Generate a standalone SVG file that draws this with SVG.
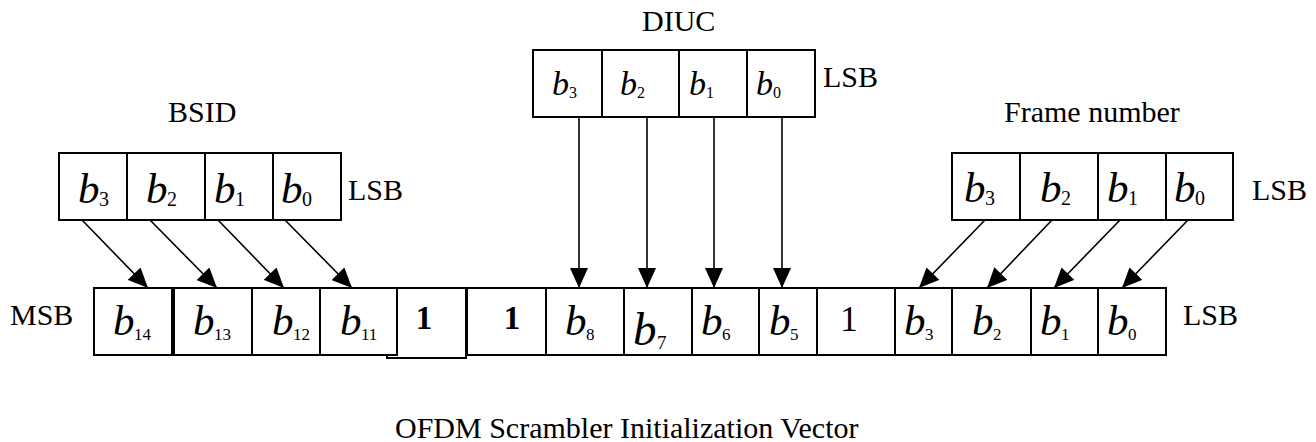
<svg xmlns="http://www.w3.org/2000/svg" width="1316" height="442" viewBox="0 0 1316 442" font-family="'Liberation Serif', 'DejaVu Serif', serif">
<style>
  text { font-family: 'Liberation Serif', 'DejaVu Serif', serif; fill: #000; }
  .cell { fill: #fff; stroke: #000; stroke-width: 2; }
  .lbl { font-size: 30px; }
  .bi { font-style: italic; font-size: 43px; }
  .bs { font-size: 20px; }
  .bbi { font-style: italic; font-size: 43px; }
  .bbs { font-size: 17px; }
  .di { font-style: italic; font-size: 34px; }
  .ds { font-size: 16px; }
  .one { font-size: 33px; font-weight: bold; text-anchor: middle; }
  .onen { font-size: 35px; text-anchor: middle; }
  .conn { stroke: #000; stroke-width: 1.6; fill: none; marker-end: url(#ah); }
</style>
<defs>
  <marker id="ah" markerUnits="userSpaceOnUse" markerWidth="20" markerHeight="18" refX="20" refY="9" orient="auto">
    <path d="M0,0 L20,9 L0,18 z" fill="#000"/>
  </marker>
</defs>
<rect width="1316" height="442" fill="#fff"/>

<!-- BSID -->
<g id="bsid">
  <text class="lbl" x="168" y="122">BSID</text>
  <rect class="cell" x="59" y="153" width="68" height="67"/>
  <rect class="cell" x="127" y="153" width="78" height="67"/>
  <rect class="cell" x="205" y="153" width="68" height="67"/>
  <rect class="cell" x="273" y="153" width="68" height="67"/>
  <text class="bi" x="78" y="203">b</text><text class="bs" x="99" y="206">3</text>
  <text class="bi" x="146" y="203">b</text><text class="bs" x="167" y="206">2</text>
  <text class="bi" x="214" y="203">b</text><text class="bs" x="235" y="206">1</text>
  <text class="bi" x="281" y="203">b</text><text class="bs" x="302" y="206">0</text>
  <text class="lbl" x="348" y="200">LSB</text>
</g>

<!-- DIUC -->
<g id="diuc">
  <text class="lbl" x="642" y="31">DIUC</text>
  <rect class="cell" x="533" y="50" width="69" height="67"/>
  <rect class="cell" x="602" y="50" width="77" height="67"/>
  <rect class="cell" x="679" y="50" width="68" height="67"/>
  <rect class="cell" x="747" y="50" width="68" height="67"/>
  <text class="di" x="552" y="95">b</text><text class="ds" x="569" y="98">3</text>
  <text class="di" x="620" y="95">b</text><text class="ds" x="637" y="98">2</text>
  <text class="di" x="689" y="95">b</text><text class="ds" x="706" y="98">1</text>
  <text class="di" x="756" y="95">b</text><text class="ds" x="773" y="98">0</text>
  <text class="lbl" x="823" y="87">LSB</text>
</g>

<!-- Frame number -->
<g id="frame">
  <text class="lbl" x="1004" y="122">Frame number</text>
  <rect class="cell" x="952" y="153" width="68" height="67"/>
  <rect class="cell" x="1020" y="153" width="78" height="67"/>
  <rect class="cell" x="1098" y="153" width="68" height="67"/>
  <rect class="cell" x="1166" y="153" width="67" height="67"/>
  <text class="bi" x="964" y="202">b</text><text class="bs" x="985" y="205">3</text>
  <text class="bi" x="1040" y="202">b</text><text class="bs" x="1061" y="205">2</text>
  <text class="bi" x="1107" y="202">b</text><text class="bs" x="1128" y="205">1</text>
  <text class="bi" x="1174" y="202">b</text><text class="bs" x="1195" y="205">0</text>
  <text class="lbl" x="1252" y="200">LSB</text>
</g>

<!-- Initialization vector -->
<g id="iv">
  <text class="lbl" x="10" y="325">MSB</text>
  <rect class="cell" x="387" y="288" width="79" height="70"/>
  <rect class="cell" x="94" y="288" width="78" height="67"/>
  <rect class="cell" x="174" y="288" width="78" height="67"/>
  <rect class="cell" x="252" y="288" width="68" height="67"/>
  <rect class="cell" x="320" y="288" width="77" height="67"/>
  <rect class="cell" x="467" y="288" width="79" height="67"/>
  <rect class="cell" x="546" y="288" width="78" height="67"/>
  <rect class="cell" x="624" y="288" width="68" height="67"/>
  <rect class="cell" x="692" y="288" width="67" height="67"/>
  <rect class="cell" x="759" y="288" width="58" height="67"/>
  <rect class="cell" x="817" y="288" width="78" height="67"/>
  <rect class="cell" x="895" y="288" width="57" height="67"/>
  <rect class="cell" x="952" y="288" width="79" height="67"/>
  <rect class="cell" x="1031" y="288" width="67" height="67"/>
  <rect class="cell" x="1098" y="288" width="68" height="67"/>
  <text class="bbi" x="113" y="335">b</text><text class="bbs" x="134" y="340">14</text>
  <text class="bbi" x="193" y="335">b</text><text class="bbs" x="214" y="340">13</text>
  <text class="bbi" x="272" y="335">b</text><text class="bbs" x="293" y="340">12</text>
  <text class="bbi" x="340" y="335">b</text><text class="bbs" x="361" y="340">11</text>
  <text class="one" x="424" y="329">1</text>
  <text class="one" x="512" y="329">1</text>
  <text class="bbi" x="565" y="335">b</text><text class="bbs" x="586" y="340">8</text>
  <text class="bbi" x="633" y="345" style="font-size:47px">b</text><text class="bbs" x="657" y="349" style="font-size:19px">7</text>
  <text class="bbi" x="701" y="335">b</text><text class="bbs" x="722" y="340">6</text>
  <text class="bbi" x="769" y="335">b</text><text class="bbs" x="790" y="340">5</text>
  <text class="onen" x="849" y="331">1</text>
  <text class="bbi" x="904" y="335">b</text><text class="bbs" x="925" y="340">3</text>
  <text class="bbi" x="972" y="335">b</text><text class="bbs" x="993" y="340">2</text>
  <text class="bbi" x="1040" y="335">b</text><text class="bbs" x="1061" y="340">1</text>
  <text class="bbi" x="1107" y="335">b</text><text class="bbs" x="1128" y="340">0</text>
  <text class="lbl" x="1183" y="325">LSB</text>
</g>

<g id="title">
  <text class="lbl" x="395" y="438">OFDM Scrambler Initialization Vector</text>
</g>

<!-- Connectors -->
<g id="connectors">
  <line class="conn" x1="82" y1="220" x2="148" y2="288"/>
  <line class="conn" x1="150" y1="220" x2="217" y2="288"/>
  <line class="conn" x1="218" y1="220" x2="284" y2="288"/>
  <line class="conn" x1="285" y1="220" x2="352" y2="288"/>
  <line class="conn" x1="579" y1="117" x2="579" y2="288"/>
  <line class="conn" x1="647" y1="117" x2="647" y2="288"/>
  <line class="conn" x1="714" y1="117" x2="714" y2="288"/>
  <line class="conn" x1="782" y1="117" x2="782" y2="288"/>
  <line class="conn" x1="985" y1="220" x2="919" y2="288"/>
  <line class="conn" x1="1052" y1="220" x2="987" y2="288"/>
  <line class="conn" x1="1120" y1="220" x2="1054" y2="288"/>
  <line class="conn" x1="1188" y1="220" x2="1122" y2="288"/>
</g>
</svg>
